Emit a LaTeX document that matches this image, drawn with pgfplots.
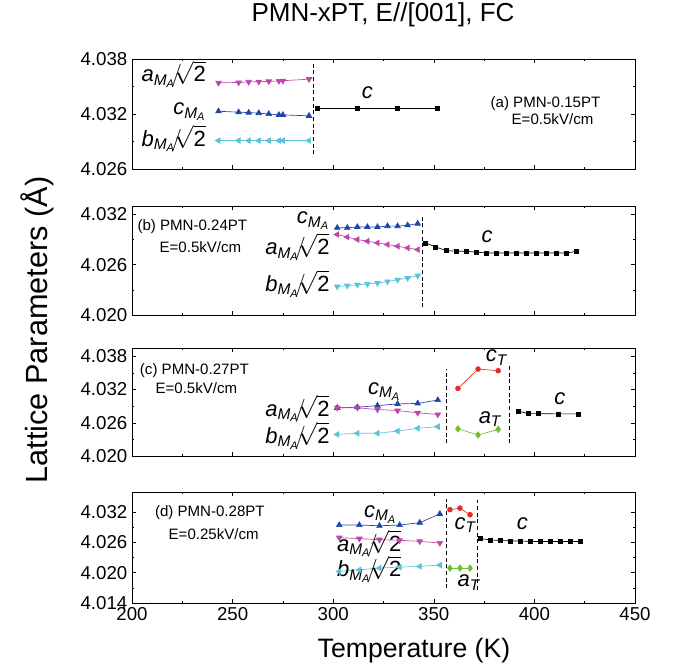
\documentclass[border=0pt]{standalone}
\usepackage{fontspec}
\setmainfont{Liberation Sans}
\usepackage{amsmath}
\usepackage{pgfplots}
\pgfplotsset{compat=1.18}

\definecolor{cmag}{RGB}{190,70,170}
\definecolor{cblue}{RGB}{30,70,170}
\definecolor{ccyan}{RGB}{90,195,220}
\definecolor{cred}{RGB}{235,40,40}
\definecolor{cgreen}{RGB}{110,190,50}

\newcommand{\lf}{\fontsize{16.5}{18}\selectfont\itshape}
\newcommand{\af}{\fontsize{11.3}{13}\selectfont}
\newcommand{\sub}{$_{\text{M}_{\text{A}}}$}
\newcommand{\rt}{$\!/\!\!\sqrt{\textup{2}}$}

\pgfplotsset{
 panel/.style={scale only axis, width=377.25pt, xmin=200, xmax=450,
  xtick={200,250,...,450}, minor x tick num=1, minor y tick num=1,
  tick align=inside, major tick length=3pt, minor tick length=1.8pt,
  tick style={black, line width=0.4pt}, axis line style={line width=0.6pt},
  ticklabel style={font=\fontsize{14}{16}\selectfont},
  /pgf/number format/assume math mode=true,
  yticklabel style={/pgf/number format/.cd, fixed, fixed zerofill, precision=3},
  scaled y ticks=false, clip=false, anchor=north west},
 up/.style={#1, mark=triangle*, mark size=2.4pt, line width=0.5pt},
 down/.style={#1, mark=triangle*, mark size=2.4pt, line width=0.5pt, mark options={rotate=180}},
 left/.style={#1, mark=triangle*, mark size=2.4pt, line width=0.5pt, mark options={rotate=90}},
 sq/.style={black, mark=square*, mark size=1.5pt, line width=0.5pt},
 circ/.style={cred, mark=*, mark size=1.8pt, line width=0.5pt},
 dia/.style={cgreen, mark=diamond*, mark size=2.4pt, line width=0.5pt},
 vdash/.style={black, densely dashed, line width=0.5pt, mark=none},
}

\begin{document}
\begin{tikzpicture}
\useasboundingbox (0,0) rectangle (505.5pt,-502.5pt);

% (a)
\begin{axis}[panel, at={(99pt,-44.25pt)}, height=82.5pt, ymin=4.026, ymax=4.038,
  ytick={4.026,4.032,4.038}, xticklabels={}]
\addplot[down=cmag] coordinates {(243,4.0354) (253,4.03544) (258,4.0355) (263,4.03552) (268,4.03556) (273,4.0356) (275,4.03563) (288,4.0358)};
\addplot[up=cblue] coordinates {(243,4.0323) (253,4.0322) (258,4.03215) (263,4.0321) (268,4.0320) (273,4.0319) (275,4.0319) (288,4.0318)};
\addplot[left=ccyan] coordinates {(243,4.0291) (253,4.0291) (258,4.0291) (263,4.0291) (268,4.0291) (273,4.0291) (275,4.0291) (288,4.0291)};
\addplot[sq] coordinates {(292,4.0326) (312,4.0326) (332,4.0326) (352,4.0326)};
\addplot[vdash] coordinates {(290,4.0276) (290,4.0377)};
\node[anchor=base east] at (axis cs:239,4.0355) {\lf a\sub\rt};
\node[anchor=base east] at (axis cs:239,4.0319) {\lf c\sub};
\node[anchor=base east] at (axis cs:239,4.0285) {\lf b\sub\rt};
\node[anchor=base] at (axis cs:317,4.0337) {\lf c};
\node at (axis cs:405.5,4.0331) {\af (a) PMN-0.15PT};
\node at (axis cs:409,4.0314) {\af E=0.5kV/cm};
\end{axis}

% (b)
\begin{axis}[panel, at={(99pt,-154.5pt)}, height=81.75pt, ymin=4.020, ymax=4.033,
  ytick={4.020,4.026,4.032}, xticklabels={}]
\addplot[up=cblue] coordinates {(302,4.0304) (307,4.0304) (312,4.0305) (317,4.0305) (322,4.0305) (327,4.0306) (332,4.0306) (337,4.0307) (342,4.0309)};
\addplot[left=cmag] coordinates {(302,4.0296) (307,4.0293) (312,4.0290) (317,4.0288) (322,4.0286) (327,4.0284) (332,4.0282) (337,4.0280) (342,4.0278)};
\addplot[down=ccyan] coordinates {(302,4.0234) (307,4.0235) (312,4.0236) (317,4.0237) (322,4.0238) (327,4.0240) (332,4.0242) (337,4.0244) (342,4.0247)};
\addplot[sq] coordinates {(346,4.0286) (351,4.0281) (356,4.0277) (361,4.0276) (366,4.0276) (371,4.0275) (376,4.0274) (381,4.0274) (386,4.0274) (391,4.0274) (396,4.0274) (401,4.0274) (406,4.0274) (411,4.0274) (416,4.0274) (421,4.0276)};
\addplot[vdash] coordinates {(344.5,4.0209) (344.5,4.0319)};
\node[anchor=base east] at (axis cs:300.5,4.0309) {\lf c\sub};
\node[anchor=base east] at (axis cs:300.5,4.0272) {\lf a\sub\rt};
\node[anchor=base east] at (axis cs:300.5,4.0228) {\lf b\sub\rt};
\node[anchor=base] at (axis cs:376.5,4.0287) {\lf c};
\node at (axis cs:230,4.0305) {\af (b) PMN-0.24PT};
\node at (axis cs:234,4.0281) {\af E=0.5kV/cm};
\end{axis}

% (c)
\begin{axis}[panel, at={(99pt,-261pt)}, height=81pt, ymin=4.020, ymax=4.0395,
  ytick={4.020,4.026,4.032,4.038}, xticklabels={}]
\addplot[up=cblue] coordinates {(302,4.0287) (312,4.0288) (322,4.0291) (332,4.0294) (342,4.0295) (352,4.0301)};
\addplot[down=cmag] coordinates {(302,4.0287) (312,4.0287) (322,4.0284) (332,4.0282) (342,4.0278) (352,4.0275)};
\addplot[left=ccyan] coordinates {(302,4.0239) (312,4.0241) (322,4.0241) (332,4.0245) (342,4.0250) (352,4.0253)};
\addplot[circ] coordinates {(362,4.0322) (372,4.0357) (382,4.0354)};
\addplot[dia] coordinates {(362,4.0249) (372,4.0238) (382,4.0248)};
\addplot[sq] coordinates {(392,4.0281) (397,4.02765) (402,4.02765) (412,4.0276) (422,4.0276)};
\addplot[vdash] coordinates {(356,4.0223) (356,4.0357)};
\addplot[vdash] coordinates {(387.5,4.0223) (387.5,4.0365)};
\node[anchor=base west] at (axis cs:315,4.0311) {\lf c\sub};
\node[anchor=base east] at (axis cs:300.5,4.0272) {\lf a\sub\rt};
\node[anchor=base east] at (axis cs:300.5,4.0223) {\lf b\sub\rt};
\node[anchor=base west] at (axis cs:373.5,4.0370) {\lf c$_{\text{T}}$};
\node[anchor=base west] at (axis cs:370,4.0259) {\lf a$_{\text{T}}$};
\node[anchor=base] at (axis cs:412.7,4.0293) {\lf c};
\node at (axis cs:231,4.0354) {\af (c) PMN-0.27PT};
\node at (axis cs:232,4.0322) {\af E=0.5kV/cm};
\end{axis}

% (d)
\begin{axis}[panel, at={(99pt,-369pt)}, height=83.25pt, ymin=4.014, ymax=4.036,
  ytick={4.014,4.020,4.026,4.032}]
\addplot[up=cblue] coordinates {(303,4.02945) (313,4.02945) (323,4.02931) (333,4.02945) (343,4.02992) (353,4.03166)};
\addplot[down=cmag] coordinates {(303,4.02696) (313,4.02676) (323,4.02656) (333,4.02643) (343,4.02622) (353,4.02589)};
\addplot[left=ccyan] coordinates {(303,4.02025) (313,4.02058) (323,4.02092) (333,4.02112) (343,4.02125) (353,4.02152)};
\addplot[circ] coordinates {(358,4.0325) (363,4.0328) (368,4.0315)};
\addplot[dia] coordinates {(358,4.0209) (363,4.0209) (368,4.0209)};
\addplot[sq] coordinates {(373,4.0268) (378,4.0265) (383,4.0264) (388,4.0263) (393,4.0263) (398,4.0262) (403,4.0262) (408,4.0262) (413,4.0262) (418,4.0262) (423,4.0262)};
\addplot[vdash] coordinates {(356,4.0169) (356,4.0347)};
\addplot[vdash] coordinates {(371.7,4.0166) (371.7,4.0344)};
\node[anchor=base west] at (axis cs:313,4.0310) {\lf c\sub};
\node[anchor=base west] at (axis cs:299.6,4.0243) {\lf a\sub\rt};
\node[anchor=base west] at (axis cs:299.6,4.0192) {\lf b\sub\rt};
\node[anchor=base west] at (axis cs:358,4.0286) {\lf c$_{\text{T}}$};
\node[anchor=base west] at (axis cs:359.5,4.0172) {\lf a$_{\text{T}}$};
\node[anchor=base] at (axis cs:394,4.0286) {\lf c};
\node at (axis cs:238.7,4.0320) {\af (d) PMN-0.28PT};
\node at (axis cs:240.6,4.0276) {\af E=0.25kV/cm};
\end{axis}

\node[anchor=base, font=\fontsize{19.5}{22}\selectfont] at (287.25pt,-16pt) {PMN-xPT, E//[001], FC};
\node[anchor=base, font=\fontsize{20}{23}\selectfont] at (310.5pt,-493pt) {Temperature (K)};
\node[anchor=base, rotate=90, font=\fontsize{23}{26}\selectfont] at (35.5pt,-247.5pt) {Lattice Parameters (Å)};
\end{tikzpicture}
\end{document}
